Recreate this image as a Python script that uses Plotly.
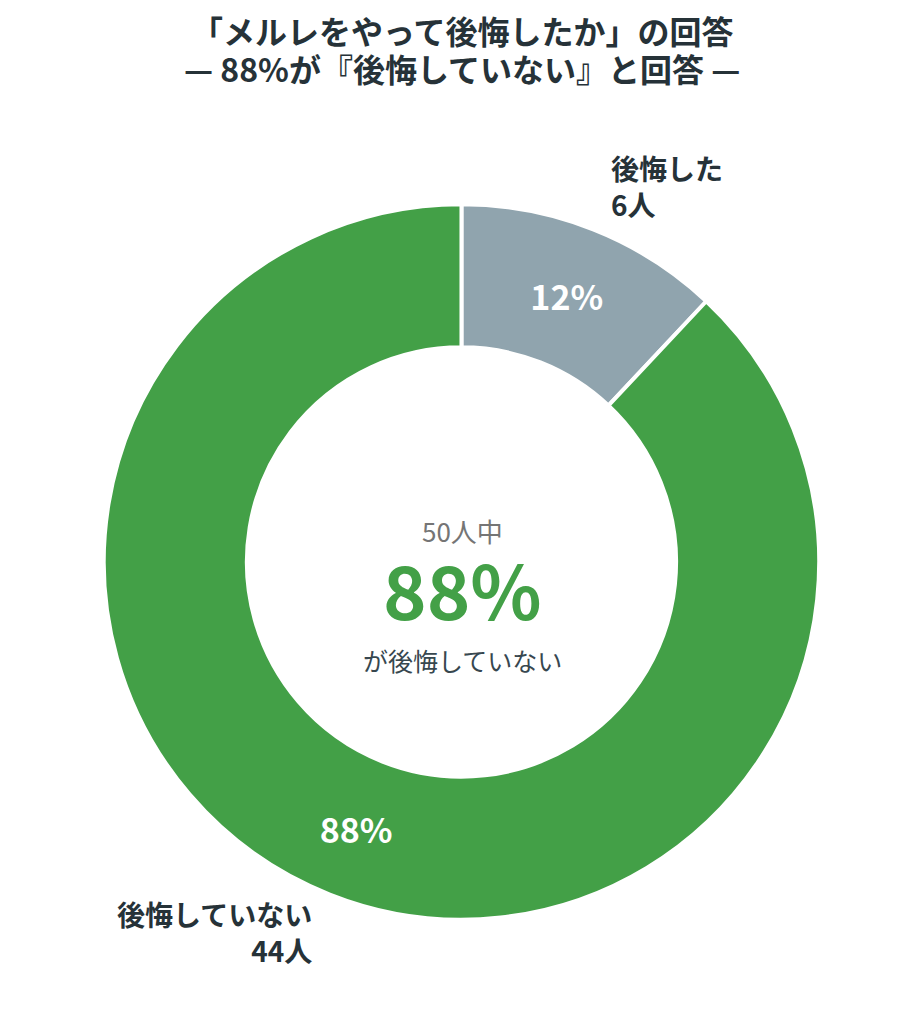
import plotly.graph_objects as go

# data
labels = ["後悔した", "後悔していない"]
counts = [6, 44]
pct_text = ["12%", "88%"]
colors = ["#90A4AE", "#43A047"]
total = sum(counts)
title_lines = ["「メルレをやって後悔したか」の回答", "— 88%が『後悔していない』と回答 —"]

FONT = "Noto Sans CJK JP"
DARK = "#263238"
CX = 0.4919  # horizontal centre of the donut (paper)

fig = go.Figure(go.Pie(
    labels=labels,
    values=counts,
    text=pct_text,
    textinfo="text",
    textposition="inside",
    insidetextorientation="horizontal",
    textfont=dict(family=FONT, size=34, color="white", weight="bold"),
    marker=dict(colors=colors, line=dict(color="white", width=4)),
    hole=0.6,
    sort=False,
    direction="clockwise",
    rotation=0,
    showlegend=False,
    domain=dict(x=[0.1034, 0.8792], y=[0.1097, 0.8083]),
))

fig.update_layout(
    width=923, height=1024,
    margin=dict(l=0, r=0, t=0, b=0),
    paper_bgcolor="white",
    plot_bgcolor="white",
    font=dict(family=FONT, color=DARK),
)

# title (two centred lines)
for txt, yy in zip(title_lines, [0.9785, 0.9414]):
    fig.add_annotation(x=CX, y=yy, xref="paper", yref="paper",
                       xanchor="center", yanchor="middle",
                       text=txt, showarrow=False,
                       font=dict(family=FONT, size=32, color=DARK, weight="bold"))

# center text
fig.add_annotation(x=CX, y=0.490, xref="paper", yref="paper",
                   xanchor="center", yanchor="middle",
                   text=f"{total}人中", showarrow=False,
                   font=dict(family=FONT, size=26, color="#757575"))
fig.add_annotation(x=CX, y=0.4336, xref="paper", yref="paper",
                   xanchor="center", yanchor="middle",
                   text=pct_text[1], showarrow=False,
                   font=dict(family=FONT, size=74, color=colors[1], weight="bold"))
fig.add_annotation(x=CX, y=0.3633, xref="paper", yref="paper",
                   xanchor="center", yanchor="middle",
                   text="が" + labels[1], showarrow=False,
                   font=dict(family=FONT, size=25, color="#37474F"))

# outside labels
fig.add_annotation(x=0.651, y=0.826, xref="paper", yref="paper",
                   xanchor="left", yanchor="middle", align="left",
                   text=f"{labels[0]}<br>{counts[0]}人", showarrow=False,
                   font=dict(family=FONT, size=28, color=DARK, weight="bold"))
fig.add_annotation(x=0.3315, y=0.0977, xref="paper", yref="paper",
                   xanchor="right", yanchor="middle", align="right",
                   text=f"{labels[1]}<br>{counts[1]}人", showarrow=False,
                   font=dict(family=FONT, size=28, color=DARK, weight="bold"))

fig.write_html("out.html")
